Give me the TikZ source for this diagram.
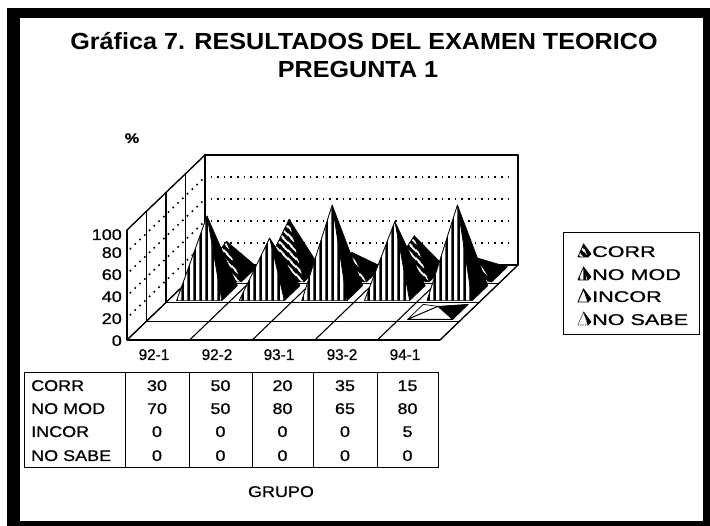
\documentclass[tikz,border=0pt]{standalone}
\usepackage{fontspec}
\setmainfont{Liberation Sans}[FakeStretch=1.16, FakeBold=0.8]
\newfontfamily\titlefont{Liberation Sans}[FakeStretch=1.08]
\usetikzlibrary{patterns.meta}
\pgfdeclarepattern{
  name=vstripes, type=uncolored,
  bottom left={\pgfpoint{0pt}{0pt}}, top right={\pgfpoint{6pt}{6pt}},
  tile size={\pgfpoint{6pt}{6pt}},
  code={\pgfsetlinewidth{3pt}
    \pgfpathmoveto{\pgfpoint{3pt}{-1pt}}\pgfpathlineto{\pgfpoint{3pt}{7pt}}
    \pgfusepath{stroke}}}
\pgfdeclarepattern{
  name=dstripes, type=uncolored,
  bottom left={\pgfpoint{0pt}{0pt}}, top right={\pgfpoint{8pt}{8pt}},
  tile size={\pgfpoint{8pt}{8pt}},
  code={\pgfsetlinewidth{3.2pt}
    \pgfpathmoveto{\pgfpoint{-1pt}{9pt}}\pgfpathlineto{\pgfpoint{9pt}{-1pt}}
    \pgfpathmoveto{\pgfpoint{-5pt}{5pt}}\pgfpathlineto{\pgfpoint{5pt}{-5pt}}
    \pgfpathmoveto{\pgfpoint{3pt}{13pt}}\pgfpathlineto{\pgfpoint{13pt}{3pt}}
    \pgfusepath{stroke}}}
% pyramid: #1 group centre, #2 depth centre, #3 value, #4 front style
\newcommand{\pyr}[4]{%
  \path[pside] (#1-0.36,0,#2-0.4) -- (#1-0.36,0,#2+0.4) -- (#1,#3,#2) -- cycle;
  \path[pright] (#1+0.36,0,#2-0.4) -- (#1+0.36,0,#2+0.4) -- (#1,#3,#2) -- cycle;
  \path[#4] (#1-0.36,0,#2-0.4) -- (#1+0.36,0,#2-0.4) -- (#1,#3,#2) -- cycle;}
% legend icon: #1 x, #2 base y, #3 front style
\newcommand{\legicon}[3]{%
  \path[pright] (#1+10,#2) -- (#1+13,#2+3) -- (#1+5.5,#2+13) -- cycle;
  \path[#3] (#1,#2) -- (#1+10,#2) -- (#1+5.5,#2+13) -- cycle;}
\begin{document}
\begin{tikzpicture}[x=1pt,y=1pt,
  lbl/.style={font=\fontsize{15.5}{18}\selectfont, inner sep=0pt},
  ttl/.style={font=\titlefont\bfseries\fontsize{23.3}{26}\selectfont, inner sep=0pt},
  wall/.style={draw=black, line width=1.1pt, line join=round},
  grid/.style={draw=black, line width=1.6pt, dash pattern=on 1.6pt off 5pt},
  pside/.style={fill=white, draw=black, line width=0.7pt, line join=round},
  pright/.style={fill=black, draw=black, line width=0.7pt, line join=round},
  fcorr/.style={draw=black, line width=0.7pt, line join=round, preaction={fill=white}, pattern=dstripes, pattern color=black},
  fnomod/.style={draw=black, line width=0.7pt, line join=round, preaction={fill=white}, pattern=vstripes, pattern color=black},
  fincor/.style={fill=white, draw=black, line width=0.9pt, line join=round},
  fnosabe/.style={fill=white, draw=black, line width=0.7pt, dash pattern=on 1.2pt off 1pt},
  tbl/.style={draw=black, line width=1pt}]
\useasboundingbox (0,0) rectangle (710,-526);
% frame
\fill[black] (7,-8) rectangle (712,-528);
\fill[white] (20,-18) rectangle (703,-521);
% title
\node[ttl, anchor=base] (title1) at (364,-50) {Gráfica 7. RESULTADOS DEL EXAMEN TEORICO};
\node[ttl, anchor=base] (title2) at (358,-78) {PREGUNTA 1};
\node[lbl, font=\bfseries\fontsize{14}{16}\selectfont, anchor=base] (pct) at (132,-143) {\%};
% chart in oblique coordinates (group, value, depth)
\begin{scope}[shift={(127pt,-340pt)}, x={(62.6pt,0pt)}, y={(0pt,1.1pt)}, z={(19.5pt,18.75pt)}]
  % back wall
  \path[wall, fill=white] (0,0,4) rectangle (5,100,4);
  \draw[wall] (0,0,4) -- (0,100,4) -- (5,100,4) -- (5,0,4);
  % left wall
  \path[wall, fill=white] (0,0,0) -- (0,0,4) -- (0,100,4) -- (0,100,0) -- cycle;
  \foreach \d in {0,1,2,3,4} \draw[wall] (0,0,\d) -- (0,100,\d);
  \draw[wall] (0,100,0) -- (0,100,4);
  \foreach \h in {20,40,60,80} {
    \draw[grid] (0.09,\h,4) -- (4.93,\h,4);
    \draw[grid] (0,\h,0.15) -- (0,\h,3.9);
  }
  % floor
  \path[wall, fill=white] (0,0,0) -- (5,0,0) -- (5,0,4) -- (0,0,4) -- cycle;
  \foreach \d in {0,1,2,3,4} \draw[wall] (0,0,\d) -- (5,0,\d);
  \foreach \g in {0,1,2,3,4,5} \draw[wall] (\g,0,0) -- (\g,0,4);
  % CORR (back row)
  \pyr{0.5}{3.5}{30}{fcorr}
  \pyr{1.5}{3.5}{50}{fcorr}
  \pyr{2.5}{3.5}{20}{fcorr}
  \pyr{3.5}{3.5}{35}{fcorr}
  \pyr{4.5}{3.5}{15}{fcorr}
  % NO MOD
  \pyr{0.5}{2.5}{70}{fnomod}
  \pyr{1.5}{2.5}{50}{fnomod}
  \pyr{2.5}{2.5}{80}{fnomod}
  \pyr{3.5}{2.5}{65}{fnomod}
  \pyr{4.5}{2.5}{80}{fnomod}
  % INCOR
  \pyr{4.5}{1.5}{5}{fincor}
\end{scope}
% y axis labels
\foreach \v/\yy in {100/240, 80/258, 60/280, 40/302, 20/324, 0/346}
  \node[lbl, anchor=base east] (y\v) at (122,-\yy) {\v};
% x axis labels
\foreach \t/\xx [count=\i] in {92-1/154, 92-2/217, 93-1/279, 93-2/342, 94-1/405}
  \node[lbl, anchor=base] (x\i) at (\xx,-360) {\scalebox{0.85}[1]{\t}};
% table
\draw[tbl] (24,-373) rectangle (438,-468);
\foreach \c in {125,189,252,313,377} \draw[tbl] (\c,-373) -- (\c,-468);
\foreach \r/\yy [count=\i] in {CORR/391, NO MOD/414, INCOR/437, NO SABE/461}
  \node[lbl, anchor=base west] (r\i) at (31,-\yy) {\r};
\foreach \a/\b/\c/\d/\e/\yy [count=\i] in {30/50/20/35/15/391, 70/50/80/65/80/414, 0/0/0/0/5/437, 0/0/0/0/0/461} {
  \node[lbl, anchor=base] (v\i a) at (157,-\yy) {\a};
  \node[lbl, anchor=base] (v\i b) at (220.5,-\yy) {\b};
  \node[lbl, anchor=base] (v\i c) at (282.5,-\yy) {\c};
  \node[lbl, anchor=base] (v\i d) at (345,-\yy) {\d};
  \node[lbl, anchor=base] (v\i e) at (407.5,-\yy) {\e};
}
\node[lbl, anchor=base] (grupo) at (281,-497) {GRUPO};
% legend
\draw[tbl] (563,-233) rectangle (699,-335);
\legicon{578}{-257}{fcorr}
\legicon{578}{-280}{fnomod}
\legicon{578}{-302}{fincor}
\legicon{578}{-325}{fnosabe}
\foreach \t/\yy [count=\i] in {CORR/257, NO MOD/280, INCOR/302, NO SABE/325}
  \node[lbl, anchor=base west] (l\i) at (592,-\yy) {\scalebox{1.2}[1]{\t}};
\end{tikzpicture}
\end{document}
